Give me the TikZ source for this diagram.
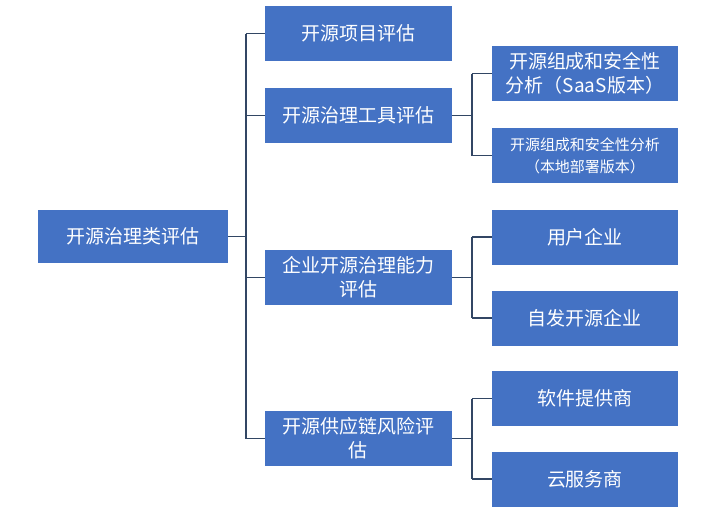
\documentclass[tikz,border=0pt]{standalone}
\usepackage{fontspec}
\setmainfont{Noto Sans CJK SC}
\usetikzlibrary{positioning}
\definecolor{boxblue}{RGB}{68,114,196}
\definecolor{linegray}{RGB}{50,70,100}
\tikzset{
	blockbox/.style = {fill=boxblue, draw=none, text=white, align=center, font=\fontsize{9.5}{12}\selectfont, inner sep=1pt},
	rootbox/.style = {blockbox, minimum width=95pt, minimum height=26.5pt},
	midbox/.style = {blockbox, minimum width=93.5pt, minimum height=27.5pt, text width=90pt},
	leafbox/.style = {blockbox, minimum width=93pt, minimum height=27.5pt, text width=90pt},
	link/.style = {draw=linegray, line width=0.9pt}
}
\begin{document}
\begin{tikzpicture}[x=0.5pt, y=-0.5pt]

	\useasboundingbox (0,0) rectangle (720,516);

	% root
	\node[rootbox] (root) at (133,236.5) {开源治理类评估};

	% second level
	\node[midbox] (project) at (358.5,33.5) {开源项目评估};
	\node[midbox] (tool) at (358.5,115.5) {开源治理工具评估};
	\node[midbox] (ability) at (358.5,277.5) {企业开源治理能力\\评估};
	\node[midbox] (supply) at (358.5,438.5) {开源供应链风险评\\估};

	% third level
	\node[leafbox] (saas) at (585,73.5) {开源组成和安全性\\分析（SaaS版本）};
	\node[leafbox, font=\fontsize{7.5}{11}\selectfont] (local) at (585,155.5) {开源组成和安全性分析\\（本地部署版本）};
	\node[leafbox] (user) at (585,237) {用户企业};
	\node[leafbox] (self) at (585,318) {自发开源企业};
	\node[leafbox] (vendor) at (585,398.5) {软件提供商};
	\node[leafbox] (cloud) at (585,479) {云服务商};

	% buses
	\coordinate (rootbus) at (246,236.5);
	\coordinate (toolbus) at (472,115.5);
	\coordinate (abilitybus) at (472,277.5);
	\coordinate (supplybus) at (472,438.5);

	\draw[link] (root.east) -- (rootbus);
	\draw[link] (rootbus |- project) -- (rootbus |- supply);
	\foreach \n in {project, tool, ability, supply}
		\draw[link] (rootbus |- \n) -- (\n.west);

	\draw[link] (tool.east) -- (toolbus);
	\draw[link] (toolbus |- saas) -- (toolbus |- local);
	\draw[link] (toolbus |- saas) -- (saas.west);
	\draw[link] (toolbus |- local) -- (local.west);

	\draw[link] (ability.east) -- (abilitybus);
	\draw[link] (abilitybus |- user) -- (abilitybus |- self);
	\draw[link] (abilitybus |- user) -- (user.west);
	\draw[link] (abilitybus |- self) -- (self.west);

	\draw[link] (supply.east) -- (supplybus);
	\draw[link] (supplybus |- vendor) -- (supplybus |- cloud);
	\draw[link] (supplybus |- vendor) -- (vendor.west);
	\draw[link] (supplybus |- cloud) -- (cloud.west);

\end{tikzpicture}
\end{document}
